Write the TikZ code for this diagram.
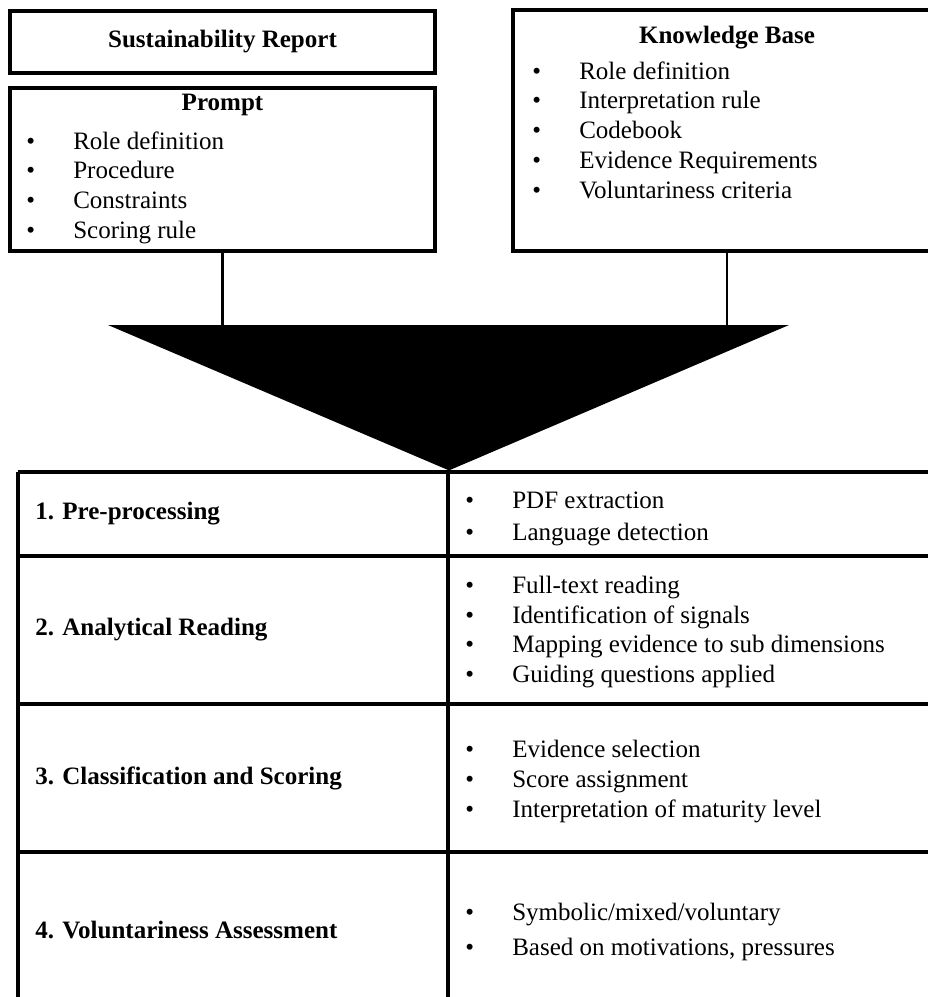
\documentclass[tikz,border=0pt]{standalone}
\usepackage{fontspec}
\setmainfont{Liberation Serif}
\usepackage{array}
\usetikzlibrary{positioning}
\usetikzlibrary{calc}

\newcommand{\bodyfont}{\fontsize{17.8pt}{21.3pt}\selectfont}
\newcommand{\bulletlist}[2][c]{\begin{tabular}[#1]{@{}p{1.175cm}@{}l@{}}#2\end{tabular}}
\newcommand{\itm}{\textbullet &}

\tikzset{
    box/.style={draw,line width=2.2pt,inner sep=0pt},
    conn/.style={line width=1.8pt},
    tabline/.style={line width=2.4pt},
    steplabel/.style={anchor=west,inner sep=0pt,font=\bodyfont\bfseries},
    steplist/.style={anchor=west,inner sep=0pt,font=\bodyfont},
}

\begin{document}
\begin{tikzpicture}[font=\bodyfont]
\useasboundingbox (0,0) rectangle (23.2,-24.925);

% inputs
\node[box,minimum width=10.625cm,minimum height=1.55cm,font=\bodyfont\bfseries] (report) at (5.5625,-1.05) {Sustainability Report};
\node[box,minimum width=10.625cm,minimum height=4.075cm] (prompt) at (5.5625,-4.2375) {};
\node[box,minimum width=10.7cm,minimum height=6.025cm] (kb) at (18.175,-3.2625) {};

\node[anchor=base,inner sep=0pt,font=\bodyfont\bfseries] (prompttitle) at (5.5625,-2.75) {Prompt};
\node[anchor=base west,inner sep=0pt] (promptlist) at (0.65,-3.725) {\bulletlist[t]{
    \itm Role definition\\
    \itm Procedure\\
    \itm Constraints\\
    \itm Scoring rule}};

\node[anchor=base,inner sep=0pt,font=\bodyfont\bfseries] (kbtitle) at (18.175,-1.075) {Knowledge Base};
\node[anchor=base west,inner sep=0pt] (kblist) at (13.3,-1.975) {\bulletlist[t]{
    \itm Role definition\\
    \itm Interpretation rule\\
    \itm Codebook\\
    \itm Evidence Requirements\\
    \itm Voluntariness criteria}};

% funnel
\coordinate (tl) at (2.7,-8.125);
\coordinate (tr) at (19.725,-8.125);
\coordinate (apex) at (11.225,-11.76);
\fill (tl) -- (tr) -- (apex) -- cycle;
\draw[conn] (prompt.south) -- (prompt.south |- tl);
\draw[conn] (kb.south) -- (kb.south |- tl);

% steps table
\foreach \y in {-11.8,-13.9,-17.6,-21.3}
    \draw[tabline] (0.45,\y) -- (23.6,\y);
\foreach \x in {0.45,11.2}
    \draw[tabline] (\x,-11.8) -- (\x,-25.3);

\node[steplabel] (s1) at (0.875,-12.85) {1. Pre-processing};
\node[steplabel] (s2) at (0.875,-15.75) {2. Analytical Reading};
\node[steplabel] (s3) at (0.875,-19.45) {3. Classification and Scoring};
\node[steplabel] (s4) at (0.875,-23.25) {4. Voluntariness Assessment};

\node[steplist] (l1) at (11.625,-12.96) {\bulletlist{
    \itm PDF extraction\\[1pt]
    \itm Language detection}};
\node[steplist] (l2) at (11.625,-15.8) {\bulletlist{
    \itm Full-text reading\\
    \itm Identification of signals\\
    \itm Mapping evidence to sub dimensions\\
    \itm Guiding questions applied}};
\node[steplist] (l3) at (11.625,-19.53) {\bulletlist{
    \itm Evidence selection\\
    \itm Score assignment\\
    \itm Interpretation of maturity level}};
\node[steplist] (l4) at (11.625,-23.3) {\bulletlist{
    \itm Symbolic/mixed/voluntary\\[3pt]
    \itm Based on motivations, pressures}};
\end{tikzpicture}
\end{document}
